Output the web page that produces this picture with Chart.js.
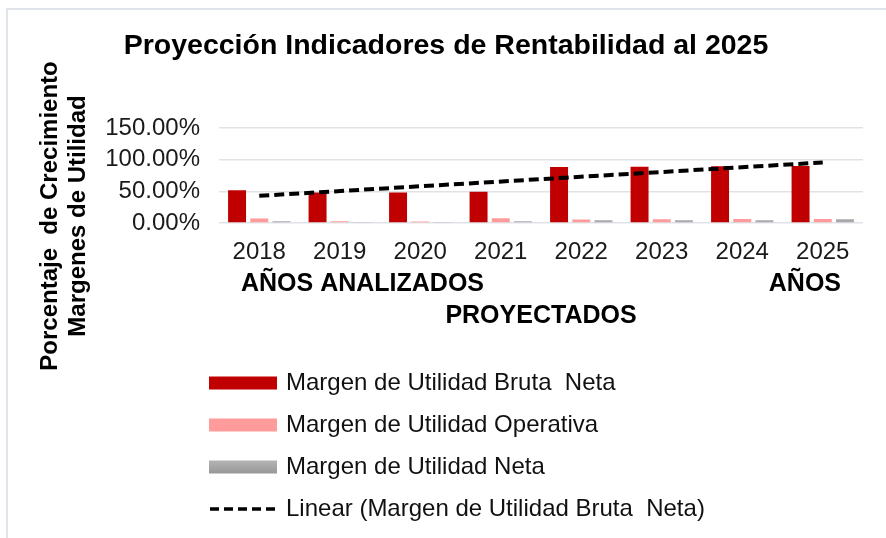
<!DOCTYPE html>
<html>
<head>
<meta charset="utf-8">
<script src="https://cdn.jsdelivr.net/npm/chart.js@4"></script>
<style>
  html, body { margin: 0; padding: 0; background: #fff; overflow: hidden; }
  #frame { position: absolute; left: 6px; top: 8px; width: 920px; height: 560px; border: 2px solid #dfe4ea; }
  #wrap { position: absolute; left: 0; top: 0; width: 886px; height: 538px; }
</style>
</head>
<body>
<div id="frame"></div>
<div id="wrap"><canvas id="rentChart" width="886" height="538"></canvas></div>
<script>
// data block
const years = ['2018', '2019', '2020', '2021', '2022', '2023', '2024', '2025'];
const margenBruta = [52.0, 48.3, 48.3, 49.3, 88.5, 89.0, 89.6, 90.1];
const margenOperativa = [7.2, 2.7, 2.2, 7.5, 5.4, 5.9, 6.4, 6.2];
const margenNeta = [2.7, 0.6, 0.6, 2.7, 4.3, 4.3, 4.3, 5.9];
// trendline end points
const tendenciaBruta = [43.0, null, null, null, null, null, null, 95.8];
const yTicks = [0, 50, 100, 150];

const FONT = '"Liberation Sans", Arial, sans-serif';

// y axis title drawn by hand so it can sit lower than the plot centre
const yTitlePlugin = {
	id: 'yTitle',
	afterDraw(chart) {
		const ctx = chart.ctx;
		ctx.save();
		ctx.font = 'bold 24px ' + FONT;
		ctx.fillStyle = '#000';
		ctx.textAlign = 'center';
		ctx.textBaseline = 'middle';
		ctx.translate(0, 216);
		ctx.rotate(-Math.PI / 2);
		ctx.fillText('Porcentaje  de Crecimiento', 0, 50);
		ctx.fillText('Margenes de Utilidad', 0, 78);
		ctx.restore();
	},
};

// legend stacked in one column under the axis titles
const stackLegendPlugin = {
	id: 'stackLegend',
	afterDraw(chart) {
		const ctx = chart.ctx;
		const rows = [383, 425, 467, 509];
		ctx.save();
		chart.data.datasets.forEach((ds, i) => {
			const y = rows[i];
			if (ds.type === 'line') {
				ctx.strokeStyle = '#000';
				ctx.lineWidth = 3.5;
				ctx.setLineDash([9, 5]);
				ctx.beginPath();
				ctx.moveTo(210, y);
				ctx.lineTo(277, y);
				ctx.stroke();
				ctx.setLineDash([]);
			} else {
				let fill = ds.backgroundColor;
				if (ds.label === 'Margen de Utilidad Neta') {
					fill = ctx.createLinearGradient(0, y - 6.5, 0, y + 6.5);
					fill.addColorStop(0, '#b4b4b4');
					fill.addColorStop(1, '#979797');
				}
				ctx.fillStyle = fill;
				ctx.fillRect(209, y - 6.5, 68, 13);
			}
			ctx.font = '24px ' + FONT;
			ctx.fillStyle = '#111';
			ctx.textAlign = 'left';
			ctx.textBaseline = 'middle';
			ctx.fillText(ds.legendText, 286, y);
		});
		ctx.restore();
	},
};

const data = {
	labels: years,
	datasets: [
		{
			label: 'Margen de Utilidad Bruta  Neta',
			legendText: 'Margen de Utilidad Bruta  Neta',
			data: margenBruta,
			backgroundColor: '#c00000',
			order: 2,
		},
		{
			label: 'Margen de Utilidad Operativa',
			legendText: 'Margen de Utilidad Operativa',
			data: margenOperativa,
			backgroundColor: '#ff9b9b',
			order: 2,
		},
		{
			label: 'Margen de Utilidad Neta',
			legendText: 'Margen de Utilidad Neta',
			data: margenNeta,
			backgroundColor: '#a9a9a9',
			order: 2,
		},
		{
			type: 'line',
			label: 'Linear (Margen de Utilidad Bruta  Neta)',
			legendText: 'Linear (Margen de Utilidad Bruta  Neta)',
			data: tendenciaBruta,
			spanGaps: true,
			borderColor: '#000',
			borderWidth: 4,
			borderDash: [10, 5],
			pointRadius: 0,
			fill: false,
			order: 1,
		},
	],
};

const config = {
	type: 'bar',
	data,
	options: {
		responsive: false,
		animation: false,
		categoryPercentage: 0.827,
		barPercentage: 0.81,
		layout: {
			padding: { left: 29, right: 23, top: 0, bottom: 206 },
		},
		plugins: {
			legend: { display: false },
			tooltip: { enabled: false },
			title: {
				display: true,
				text: 'Proyección Indicadores de Rentabilidad al 2025',
				color: '#000',
				font: { family: FONT, size: 28.5, weight: 'bold', lineHeight: 1.2 },
				padding: { top: 29, bottom: 65 },
			},
		},
		scales: {
			y: {
				min: 0,
				max: 150,
				afterFit(scale) {
					scale.width = 190;
				},
				afterBuildTicks(scale) {
					scale.ticks = yTicks.map((v) => ({ value: v }));
				},
				ticks: {
					autoSkip: false,
					color: '#1a1a1a',
					padding: 19,
					font: { family: FONT, size: 24 },
					callback: (v) => v.toFixed(2) + '%',
				},
				grid: { color: '#dfe3e8', lineWidth: 1.5, drawTicks: false },
				border: { display: false },
			},
			x: {
				afterFit(scale) {
					scale.height = 109;
				},
				ticks: {
					autoSkip: false,
					color: '#1a1a1a',
					padding: 15,
					font: { family: FONT, size: 24 },
				},
				grid: { display: false, drawTicks: false },
				border: { display: false },
				title: {
					display: true,
					text: ['AÑOS ANALIZADOS' + ' '.repeat(41) + 'AÑOS', 'PROYECTADOS'],
					color: '#000',
					font: { family: FONT, size: 25, weight: 'bold', lineHeight: 1.28 },
					padding: { top: 0, bottom: 0 },
				},
			},
		},
	},
	plugins: [yTitlePlugin, stackLegendPlugin],
};

const rentChart = new Chart(document.getElementById('rentChart'), config);
</script>
</body>
</html>
